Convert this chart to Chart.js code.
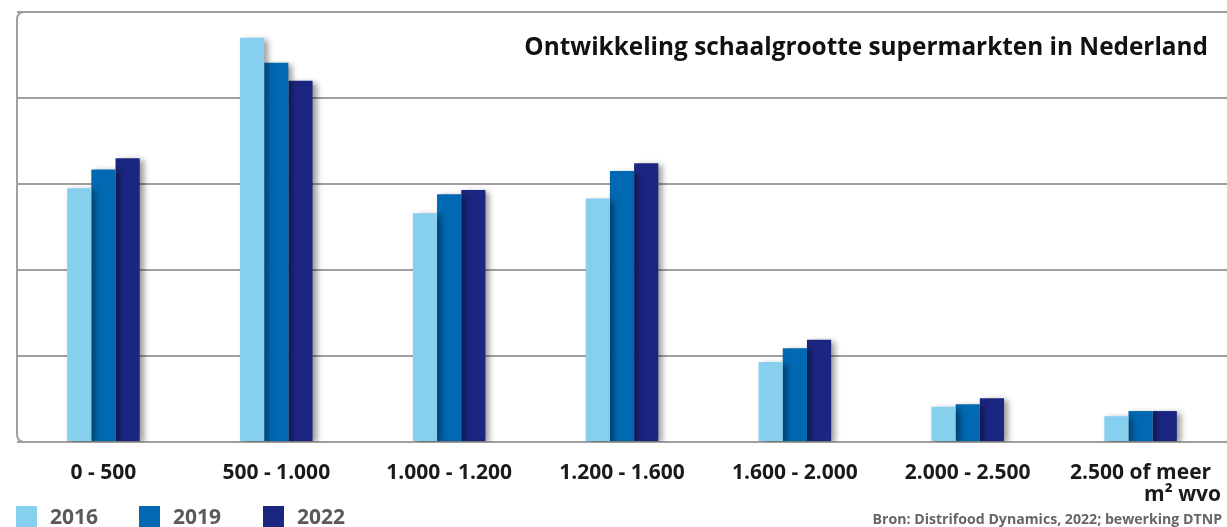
<!DOCTYPE html>
<html>
<head>
<meta charset="utf-8">
<script src="https://cdn.jsdelivr.net/npm/chart.js@4"></script>
<style>
  html, body { margin: 0; padding: 0; background: #fff; }
  #wrap { width: 1227px; height: 527px; position: relative; }
</style>
</head>
<body>
<div id="wrap"><canvas id="chart"></canvas></div>
<script>
// categorieën (m² wvo)
const categories = ['0 - 500', '500 - 1.000', '1.000 - 1.200', '1.200 - 1.600', '1.600 - 2.000', '2.000 - 2.500', ['2.500 of meer', '\u2003\u2003\u2003\u2003m\u00b2 wvo']];
const years = ['2016', '2019', '2022'];
const values2016 = [295, 470, 266, 283, 93, 41, 30];
const values2019 = [317, 441, 288, 315, 109, 44, 36];
const values2022 = [330, 420, 293, 324, 119, 51, 36];
const yTicks = [0, 100, 200, 300, 400, 500];
const titleText = 'Ontwikkeling schaalgrootte supermarkten in Nederland';
const sourceText = 'Bron: Distrifood Dynamics, 2022; bewerking DTNP';

const colors = ['#86cfef', '#0069b1', '#1b2681'];
const FONT = "'Open Sans', 'DejaVu Sans', sans-serif";

// schaduw achter de staven
const shadowPlugin = {
    id: 'barShadow',
    beforeDatasetsDraw(chart) {
        const ctx = chart.ctx;
        ctx.save();
        ctx.shadowColor = 'rgba(0,0,0,0.4)';
        ctx.shadowBlur = 6;
        ctx.shadowOffsetX = 4;
        ctx.shadowOffsetY = 2;
    },
    afterDatasetsDraw(chart) {
        chart.ctx.restore();
    }
};

// kader, titel, legenda en bron
const decorPlugin = {
    id: 'decor',
    beforeDatasetsDraw(chart) {
        const ctx = chart.ctx;
        const a = chart.chartArea;
        ctx.save();
        ctx.strokeStyle = '#a0a0a0';
        ctx.lineWidth = 2;
        ctx.beginPath();
        ctx.roundRect(a.left, a.top, a.right - a.left + 20, a.bottom - a.top, 7);
        ctx.stroke();
        ctx.restore();
    },
    afterDraw(chart) {
        const ctx = chart.ctx;
        ctx.save();
        // titel
        ctx.fillStyle = '#111';
        ctx.textAlign = 'right';
        ctx.textBaseline = 'alphabetic';
        let size = 30;
        ctx.font = `bold ${size}px ${FONT}`;
        size = size * 684 / ctx.measureText(titleText).width;
        ctx.font = `bold ${size}px ${FONT}`;
        ctx.fillText(titleText, 1208, 55);

        // bron
        ctx.fillStyle = '#666';
        let s2 = 16;
        ctx.font = `bold ${s2}px ${FONT}`;
        s2 = s2 * 350 / ctx.measureText(sourceText).width;
        ctx.font = `bold ${s2}px ${FONT}`;
        ctx.fillText(sourceText, 1222, 524);

        // legenda
        const xs = [16, 139, 263];
        ctx.textAlign = 'left';
        ctx.textBaseline = 'middle';
        ctx.font = `bold 21px ${FONT}`;
        chart.data.datasets.forEach((ds, i) => {
            ctx.fillStyle = ds.backgroundColor;
            ctx.fillRect(xs[i], 506, 21, 21);
            ctx.fillStyle = '#5a5a5a';
            ctx.fillText(ds.label, xs[i] + 34, 518);
        });
        ctx.restore();
    }
};

const ctx = document.getElementById('chart').getContext('2d');
new Chart(ctx, {
    type: 'bar',
    data: {
        labels: categories,
        datasets: [
            { label: years[0], data: values2016, backgroundColor: colors[0] },
            { label: years[1], data: values2019, backgroundColor: colors[1] },
            { label: years[2], data: values2022, backgroundColor: colors[2] }
        ]
    },
    options: {
        responsive: true,
        maintainAspectRatio: false,
        animation: false,
        layout: { padding: { left: 17, top: 12, right: 0, bottom: 0 } },
        datasets: {
            bar: { categoryPercentage: 0.42, barPercentage: 1.0, borderWidth: 0 }
        },
        plugins: {
            legend: { display: false },
            tooltip: { enabled: false }
        },
        scales: {
            x: {
                grid: { display: false },
                border: { display: false },
                ticks: {
                    color: '#1a1a1a',
                    font: { family: FONT, size: 21, weight: 'bold', lineHeight: 1.05 },
                    padding: 12,
                    maxRotation: 0,
                    autoSkip: false
                },
                afterFit(scale) {
                    scale.height = 85;
                    scale.paddingLeft = 0;
                    scale.paddingRight = 0;
                }
            },
            y: {
                min: yTicks[0],
                max: yTicks[yTicks.length - 1],
                afterBuildTicks(scale) { scale.ticks = yTicks.map(v => ({ value: v })); },
                ticks: { display: false },
                grid: { color: '#a0a0a0', lineWidth: 2, drawTicks: false },
                border: { display: false },
                afterFit(scale) { scale.width = 0; }
            }
        }
    },
    plugins: [decorPlugin, shadowPlugin]
});
</script>
</body>
</html>
